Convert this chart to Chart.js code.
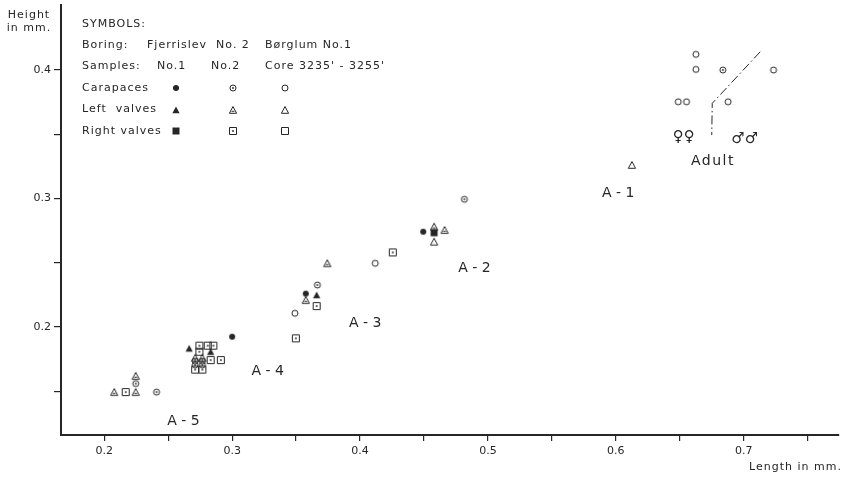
<!DOCTYPE html>
<html>
<head>
<meta charset="utf-8">
<script src="https://cdn.jsdelivr.net/npm/chart.js@4.4.0/dist/chart.umd.min.js"></script>
<style>
  html, body { margin: 0; background: #fff; overflow: hidden; }
  #wrap { width: 844px; height: 477px; }
</style>
</head>
<body>
<div id="wrap"><canvas id="chart"></canvas></div>
<script>
// measured [length, height] in mm
const carapacesNo1 = [[0.300, 0.1925], [0.3576, 0.226], [0.4494, 0.2742]];
const carapacesNo2 = [[0.2409, 0.1494], [0.2246, 0.156], [0.2711, 0.1735], [0.2767, 0.1735],
  [0.2711, 0.1704], [0.2767, 0.1704], [0.3667, 0.2327], [0.4816, 0.2994], [0.6837, 0.400]];
const carapacesCore = [[0.3491, 0.2107], [0.4119, 0.2496], [0.6626, 0.4122], [0.6626, 0.4005],
  [0.7233, 0.400], [0.6488, 0.3753], [0.6553, 0.3753], [0.6878, 0.3753]];
const leftNo1 = [[0.2664, 0.1834], [0.2832, 0.1808], [0.3661, 0.2249]];
const leftNo2 = [[0.2078, 0.1494], [0.2246, 0.1494], [0.2246, 0.162], [0.2711, 0.1761],
  [0.2767, 0.1761], [0.3744, 0.2496], [0.3576, 0.221], [0.4579, 0.2781], [0.4661, 0.2755]];
const leftCore = [[0.4579, 0.2664], [0.6126, 0.3261]];
const rightNo1 = [[0.4579, 0.2734]];
const rightNo2 = [[0.2168, 0.1494], [0.2744, 0.1855], [0.2809, 0.1855], [0.2853, 0.1855],
  [0.2744, 0.1808], [0.2832, 0.1743], [0.2912, 0.1743], [0.2711, 0.1669], [0.2767, 0.1669],
  [0.3661, 0.2163], [0.3498, 0.1912], [0.4256, 0.2581]];
const rightCore = [];

const adultDivider = [[0.7129, 0.4142], [0.6754, 0.3741], [0.675, 0.3494]];

const groupLabels = [
  ['A - 1', 0.6018, 0.304], ['A - 2', 0.4894, 0.2457], ['A - 3', 0.4041, 0.2029],
  ['A - 4', 0.3279, 0.1652], ['A - 5', 0.262, 0.1263], ['Adult', 0.6759, 0.3286],
  ['♀♀', 0.6531, 0.348], ['♂♂', 0.7008, 0.3459]
];

const xTicks = [0.2, 0.25, 0.3, 0.35, 0.4, 0.45, 0.5, 0.55, 0.6, 0.65, 0.7, 0.75];
const yTicks = [0.15, 0.2, 0.25, 0.3, 0.35, 0.4];

const INK = '#262626';
const FONT = '"DejaVu Sans", sans-serif';

// small canvases used as point symbols
function symbol(shape, fill, mark) {
  const c = document.createElement('canvas');
  c.width = 10; c.height = 10;
  const g = c.getContext('2d');
  g.strokeStyle = INK; g.fillStyle = INK; g.lineWidth = 1;
  g.beginPath();
  if (shape === 'circle') g.arc(5, 5, 3, 0, Math.PI * 2);
  else if (shape === 'tri') { g.moveTo(5, 1.5); g.lineTo(8.6, 8.3); g.lineTo(1.4, 8.3); g.closePath(); }
  else g.rect(1.5, 1.5, 7, 7);
  if (fill) g.fill(); else g.stroke();
  if (mark) {
    g.beginPath();
    if (shape === 'tri') { g.moveTo(3.6, 6.3); g.lineTo(6.4, 6.3); g.stroke(); }
    else { g.arc(5, 5, 0.9, 0, Math.PI * 2); g.fill(); }
  }
  return c;
}

const sym = {
  c1: symbol('circle', true), c2: symbol('circle', false, true), c3: symbol('circle', false),
  t1: symbol('tri', true), t2: symbol('tri', false, true), t3: symbol('tri', false),
  s1: symbol('sq', true), s2: symbol('sq', false, true), s3: symbol('sq', false)
};

const pts = arr => arr.map(p => ({ x: p[0], y: p[1] }));
function series(label, arr, style) {
  return { label: label, data: pts(arr), pointStyle: style, pointRadius: 4, showLine: false };
}

const decorPlugin = {
  id: 'decor',
  afterDraw(chart) {
    const ctx = chart.ctx, xs = chart.scales.x, ys = chart.scales.y;
    ctx.save();
    ctx.fillStyle = INK;
    ctx.textBaseline = 'middle';

    // group labels
    ctx.textAlign = 'center';
    groupLabels.forEach(l => {
      ctx.letterSpacing = l[0] === 'Adult' ? '1.5px' : '0px';
      ctx.font = (l[0].length === 2 ? '15px ' : '14px ') + FONT;
      ctx.fillText(l[0], xs.getPixelForValue(l[1]), ys.getPixelForValue(l[2]));
    });

    // axis titles
    ctx.letterSpacing = '1px';
    ctx.font = '11px ' + FONT;
    ctx.fillText('Height', 29, 15);
    ctx.fillText('in mm.', 29, 28);
    ctx.textAlign = 'right';
    ctx.fillText('Length in mm.', 842, 467);

    // symbols table
    ctx.textAlign = 'left';
    ctx.fillText('SYMBOLS:', 82, 24);
    ctx.fillText('Boring:', 82, 45);
    ctx.fillText('Fjerrislev  No. 2', 147, 45);
    ctx.fillText('Børglum No.1', 265, 45);
    ctx.fillText('Samples:', 82, 66);
    ctx.fillText('No.1', 157, 66);
    ctx.fillText('No.2', 211, 66);
    ctx.fillText("Core 3235' - 3255'", 265, 66);
    const rows = [['Carapaces', 'c'], ['Left  valves', 't'], ['Right valves', 's']];
    rows.forEach((r, i) => {
      const y = 88 + i * 21.5;
      ctx.fillText(r[0], 82, y);
      [175.5, 232.5, 285].forEach((x, k) => {
        const s = sym[r[1] + (k + 1)];
        ctx.drawImage(s, Math.round(x - 5), Math.round(y - 5));
      });
    });
    ctx.restore();
  }
};

const datasets = [
  series('Carapaces No.1', carapacesNo1, sym.c1),
  series('Carapaces No.2', carapacesNo2, sym.c2),
  series('Carapaces Core', carapacesCore, sym.c3),
  series('Left valves No.1', leftNo1, sym.t1),
  series('Left valves No.2', leftNo2, sym.t2),
  series('Left valves Core', leftCore, sym.t3),
  series('Right valves No.1', rightNo1, sym.s1),
  series('Right valves No.2', rightNo2, sym.s2),
  series('Right valves Core', rightCore, sym.s3),
  {
    label: 'divider', data: pts(adultDivider), showLine: true, pointRadius: 0,
    borderColor: INK, borderWidth: 1, borderDash: [9, 3, 1.5, 3], tension: 0
  }
];

function setTicks(list) {
  return scale => { scale.ticks = list.map(v => ({ value: v })); };
}
const tickLabel = v => (Math.round(v * 100) % 10 === 0 ? v.toFixed(1) : '');

new Chart(document.getElementById('chart'), {
  type: 'scatter',
  data: { datasets: datasets },
  options: {
    responsive: true,
    maintainAspectRatio: false,
    animation: false,
    layout: { padding: { top: 5, right: 0, left: 0, bottom: 0 } },
    plugins: { legend: { display: false }, tooltip: { enabled: false } },
    scales: {
      x: {
        type: 'linear', min: 0.1662, max: 0.7745,
        afterBuildTicks: setTicks(xTicks),
        afterFit: s => { s.height = 42; s.paddingLeft = 0; s.paddingRight = 0; },
        grid: { drawOnChartArea: false, tickLength: 6, color: INK, lineWidth: 1.2 },
        border: { color: INK, width: 2 },
        ticks: { callback: tickLabel, autoSkip: false, maxRotation: 0, padding: 4,
          color: INK, font: { family: FONT, size: 11 } }
      },
      y: {
        type: 'linear', min: 0.116, max: 0.4506,
        afterBuildTicks: setTicks(yTicks),
        afterFit: s => { s.width = 61; s.paddingTop = 0; s.paddingBottom = 0; },
        grid: { drawOnChartArea: false, tickLength: 7, color: INK, lineWidth: 1.2 },
        border: { color: INK, width: 2 },
        ticks: { callback: tickLabel, autoSkip: false, padding: 3,
          color: INK, font: { family: FONT, size: 11 } }
      }
    }
  },
  plugins: [decorPlugin]
});
</script>
</body>
</html>
